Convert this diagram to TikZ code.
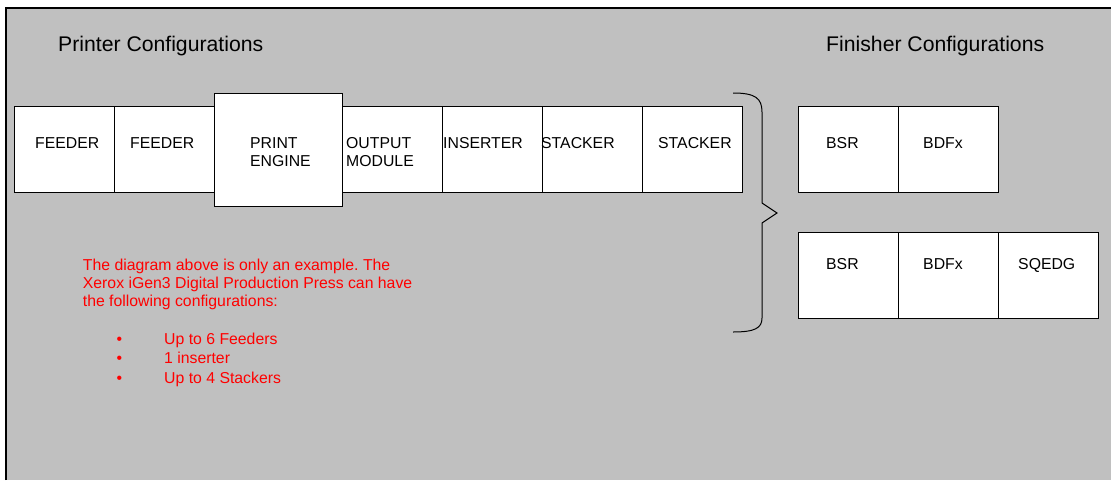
\documentclass[tikz,border=0pt]{standalone}
\usepackage{fontspec}
\setmainfont{Liberation Sans}
\usetikzlibrary{positioning}
\definecolor{panelgray}{RGB}{192,192,192}
\definecolor{notered}{RGB}{255,0,0}
\newcommand{\unitfont}{\fontsize{15.8}{18}\selectfont}
\newcommand{\headfont}{\fontsize{21.2}{25}\selectfont}
\frenchspacing
\tikzset{
  unit/.style={draw=black, fill=white, line width=0.9pt, minimum width=100pt, minimum height=86pt, inner sep=0pt, outer sep=0pt},
  unitlabel/.style={anchor=north west, inner sep=0pt, font=\unitfont, align=left},
  heading/.style={anchor=base west, inner sep=0pt, font=\headfont},
  note/.style={anchor=north west, inner sep=0pt, font=\unitfont, text=notered, align=left}
}

\begin{document}
\begin{tikzpicture}[x=1pt,y=-1pt]
\useasboundingbox (0,0) rectangle (1111,480);
\fill[white] (0,0) rectangle (1111,480);
\fill[panelgray] (6,8) rectangle (1111,480);
\draw[line width=1.2pt] (6,480) -- (6,8) -- (1111,8);

\node[heading] (printerhead) at (58,51.5) {Printer Configurations};
\node[heading] (finisherhead) at (826,51.5) {Finisher Configurations};

% printer row
\node[unit] (feedA) at (64,149.5) {};
\node[unit,right=0pt of feedA] (feedB) {};
\node[unit,right=0pt of feedB,minimum width=128pt,minimum height=113pt] (engine) {};
\node[unit,right=0pt of engine] (output) {};
\node[unit,right=0pt of output] (inserter) {};
\node[unit,right=0pt of inserter] (stackA) {};
\node[unit,right=0pt of stackA] (stackB) {};
\foreach \x/\name/\txt in {35/feedA/FEEDER, 130/feedB/FEEDER, 250/engine/{PRINT\\ENGINE},
  346/output/{OUTPUT\\MODULE}, 443/inserter/INSERTER, 541/stackA/STACKER, 658/stackB/STACKER}
\node[unitlabel] (\name txt) at (\x,137.4) {\txt};

% finishers
\node[unit] (bsrA) at (848,149.5) {};
\node[unit,right=0pt of bsrA] (bdfxA) {};
\node[unit] (bsrB) at (848,275.5) {};
\node[unit,right=0pt of bsrB] (bdfxB) {};
\node[unit,right=0pt of bdfxB] (sqedg) {};
\foreach \x/\name/\txt in {826/bsrA/BSR, 923/bdfxA/BDFx}
\node[unitlabel] (\name txt) at (\x,137.4) {\txt};
\foreach \x/\name/\txt in {826/bsrB/BSR, 923/bdfxB/BDFx, 1018/sqedg/SQEDG}
\node[unitlabel] (\name txt) at (\x,258.4) {\txt};

% brace
\draw[line width=1pt] (733,93) .. controls (755,93) and (762,98) .. (762,112) -- (762,203)
  -- (777,213) -- (762,223) -- (762,318) .. controls (762,328) and (755,332) .. (733,332);

% note
\node[note] (notetext) at (82.7,258.4) {The diagram above is only an example. The\\
  Xerox iGen3 Digital Production Press can have\\ the following configurations:};
\node[note,font=\fontsize{15.8}{19.5}\selectfont] (notelist) at (116.3,332.4)
  {\makebox[47.7pt][l]{•}Up to 6 Feeders\\ \makebox[47.7pt][l]{•}1 inserter\\
   \makebox[47.7pt][l]{•}Up to 4 Stackers};
\end{tikzpicture}
\end{document}
